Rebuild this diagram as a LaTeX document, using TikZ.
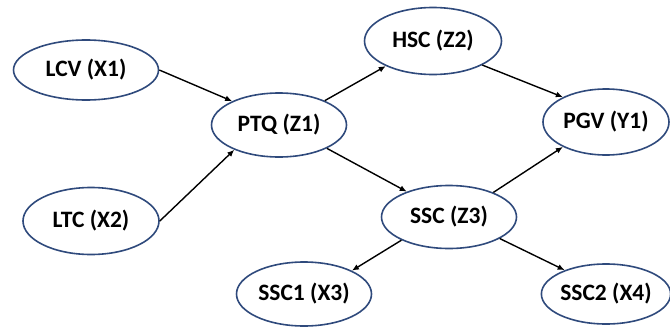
\documentclass[tikz,border=0pt]{standalone}
\usepackage{fontspec}
\setmainfont{Carlito}
\usetikzlibrary{shapes.geometric,arrows.meta}
\definecolor{ringblue}{HTML}{2F4A7C}
\tikzset{
  var/.style={ellipse, draw=ringblue, line width=1.6pt, inner sep=0pt,
    font=\fontsize{23.5}{27}\selectfont\bfseries, text=black},
  link/.style={line width=1.4pt, -{Latex[length=7pt,width=6pt]}}
}
\begin{document}
\begin{tikzpicture}[x=1pt,y=-1pt]
\useasboundingbox (0,0) rectangle (670,327);
\node[var, minimum width=145, minimum height=60] (lcv) at (86,70) {LCV (X1)};
\node[var, minimum width=135, minimum height=64] (ptq) at (279,125) {PTQ (Z1)};
\node[var, minimum width=137, minimum height=67] (hsc) at (433,41) {HSC (Z2)};
\node[var, minimum width=126, minimum height=66] (pgv) at (606,122) {PGV (Y1)};
\node[var, minimum width=136, minimum height=67] (ltc) at (91,221) {LTC (X2)};
\node[var, minimum width=135, minimum height=63] (ssc) at (449,217) {SSC (Z3)};
\node[var, minimum width=135, minimum height=64] (ssc1) at (304,294) {SSC1 (X3)};
\node[var, minimum width=127, minimum height=60] (ssc2) at (606,294) {SSC2 (X4)};
\draw[link] (lcv.east) -- (ptq.153);
\draw[link] (ltc.east) -- (ptq.209);
\draw[link] (ptq.28) -- (hsc.208);
\draw[link] (hsc.-26) -- (pgv.150);
\draw[link] (ptq.-26) -- (ssc.149);
\draw[link] (ssc.29) -- (pgv.210);
\draw[link] (ssc.206) -- (ssc1.26);
\draw[link] (ssc.-23) -- (ssc2.150);
\end{tikzpicture}
\end{document}
